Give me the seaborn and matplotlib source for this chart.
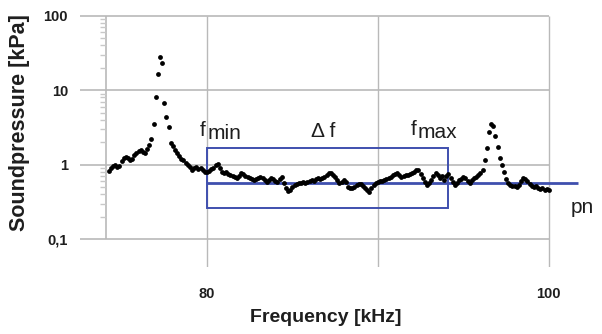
import numpy as np
import matplotlib
matplotlib.use('Agg')
import matplotlib.pyplot as plt
import seaborn as sns
from matplotlib.ticker import NullLocator, NullFormatter

# measured spectrum, 0.125 kHz steps
freq_khz = [
    74.25, 74.375, 74.5, 74.625, 74.75, 74.875,
    75.0, 75.125, 75.25, 75.375, 75.5, 75.625, 75.75, 75.875,
    76.0, 76.125, 76.25, 76.375, 76.5, 76.625, 76.75, 76.875,
    77.0, 77.125, 77.25, 77.375, 77.5, 77.625, 77.75, 77.875,
    78.0, 78.125, 78.25, 78.375, 78.5, 78.625, 78.75, 78.875,
    79.0, 79.125, 79.25, 79.375, 79.5, 79.625, 79.75, 79.875,
    80.0, 80.125, 80.25, 80.375, 80.5, 80.625, 80.75, 80.875,
    81.0, 81.125, 81.25, 81.375, 81.5, 81.625, 81.75, 81.875,
    82.0, 82.125, 82.25, 82.375, 82.5, 82.625, 82.75, 82.875,
    83.0, 83.125, 83.25, 83.375, 83.5, 83.625, 83.75, 83.875,
    84.0, 84.125, 84.25, 84.375, 84.5, 84.625, 84.75, 84.875,
    85.0, 85.125, 85.25, 85.375, 85.5, 85.625, 85.75, 85.875,
    86.0, 86.125, 86.25, 86.375, 86.5, 86.625, 86.75, 86.875,
    87.0, 87.125, 87.25, 87.375, 87.5, 87.625, 87.75, 87.875,
    88.0, 88.125, 88.25, 88.375, 88.5, 88.625, 88.75, 88.875,
    89.0, 89.125, 89.25, 89.375, 89.5, 89.625, 89.75, 89.875,
    90.0, 90.125, 90.25, 90.375, 90.5, 90.625, 90.75, 90.875,
    91.0, 91.125, 91.25, 91.375, 91.5, 91.625, 91.75, 91.875,
    92.0, 92.125, 92.25, 92.375, 92.5, 92.625, 92.75, 92.875,
    93.0, 93.125, 93.25, 93.375, 93.5, 93.625, 93.75, 93.875,
    94.0, 94.125, 94.25, 94.375, 94.5, 94.625, 94.75, 94.875,
    95.0, 95.125, 95.25, 95.375, 95.5, 95.625, 95.75, 95.875,
    96.0, 96.125, 96.25, 96.375, 96.5, 96.625, 96.75, 96.875,
    97.0, 97.125, 97.25, 97.375, 97.5, 97.625, 97.75, 97.875,
    98.0, 98.125, 98.25, 98.375, 98.5, 98.625, 98.75, 98.875,
    99.0, 99.125, 99.25, 99.375, 99.5, 99.625, 99.75, 99.875,
    100.0,
]
pressure_kpa = [
    0.83, 0.91, 0.97, 1.00, 0.94, 0.97,
    1.13, 1.24, 1.28, 1.24, 1.17, 1.20, 1.36, 1.45,
    1.54, 1.59, 1.50, 1.45, 1.64, 1.86, 2.24, 3.55,
    8.2, 16.7, 28.3, 23.5, 6.8, 4.4, 3.24, 1.97,
    1.80, 1.59, 1.45, 1.32, 1.20, 1.17, 1.06, 1.00,
    0.94, 0.86, 0.91, 0.94, 0.88, 0.91, 0.86, 0.81,
    0.81, 0.83, 0.88, 0.91, 1.00, 1.03, 0.91, 0.81,
    0.78, 0.81, 0.76, 0.73, 0.71, 0.69, 0.67, 0.71,
    0.78, 0.76, 0.71, 0.69, 0.67, 0.65, 0.63, 0.65,
    0.67, 0.69, 0.67, 0.63, 0.59, 0.63, 0.67, 0.65,
    0.61, 0.59, 0.65, 0.69, 0.57, 0.49, 0.45, 0.46,
    0.51, 0.54, 0.56, 0.57, 0.57, 0.59, 0.57, 0.59,
    0.61, 0.63, 0.61, 0.65, 0.67, 0.65, 0.67, 0.69,
    0.73, 0.78, 0.78, 0.73, 0.69, 0.63, 0.57, 0.59,
    0.63, 0.59, 0.51, 0.49, 0.49, 0.51, 0.54, 0.56,
    0.56, 0.52, 0.49, 0.46, 0.43, 0.49, 0.54, 0.57,
    0.59, 0.61, 0.61, 0.63, 0.65, 0.67, 0.69, 0.73,
    0.76, 0.78, 0.73, 0.69, 0.71, 0.73, 0.73, 0.76,
    0.78, 0.81, 0.86, 0.86, 0.76, 0.67, 0.59, 0.54,
    0.57, 0.63, 0.71, 0.78, 0.73, 0.67, 0.71, 0.63,
    0.71, 0.76, 0.67, 0.59, 0.54, 0.57, 0.63, 0.65,
    0.69, 0.67, 0.61, 0.57, 0.63, 0.67, 0.69, 0.73,
    0.78, 0.86, 1.17, 1.69, 2.78, 3.55, 3.34, 2.45,
    1.75, 1.24, 1.00, 0.81, 0.65, 0.57, 0.54, 0.52,
    0.52, 0.51, 0.54, 0.61, 0.67, 0.65, 0.61, 0.56,
    0.52, 0.51, 0.52, 0.49, 0.47, 0.49, 0.46, 0.47,
    0.46,
]

ytick_vals = [0.1, 1, 10, 100]
ytick_labels = ['0,1', '1', '10', '100']
xtick_vals = [80, 100]
xtick_labels = ['80', '100']

# blue window: f_min .. f_max, and noise level pn
f_min, f_max = 80.0, 94.1
box_low, box_high = 0.264, 1.69
pn_level = 0.568

sns.set_style('white')
plt.rcParams['font.family'] = ['Liberation Sans', 'DejaVu Sans']

grid_col = '#b9b9b9'
blue = '#3f4fae'
txt = '#1e1e1e'

fig = plt.figure(figsize=(6.02, 3.34), dpi=100)
ax = fig.add_axes([0.1337, 0.2006, 0.8347, 0.7524])
ax.set_yscale('log')
ax.set_xlim(72.6, 102.0)
ax.set_ylim(0.0426, 100)
for s in ax.spines.values():
    s.set_visible(False)

# grid
ax.hlines(ytick_vals, 72.6, 100.0, color=grid_col, lw=1.2, zorder=1, clip_on=False)
ax.vlines(74.09, 0.1, 100, color=grid_col, lw=1.2, zorder=1)
ax.vlines([80, 90, 100], 0.0426, 100, color=grid_col, lw=1.0, zorder=1)
minor = [m * 10.0 ** e for e in (-1, 0, 1) for m in range(2, 10)]
ax.hlines(minor, 73.74, 74.09, color='#c8c8c8', lw=1.0, zorder=1)

# window and pn line
ax.add_patch(plt.Rectangle((f_min, box_low), f_max - f_min, box_high - box_low,
                           fill=False, ec=blue, lw=1.4, zorder=2))
ax.hlines(pn_level, f_min, 101.7, color=blue, lw=2.0, zorder=2)

sns.scatterplot(x=freq_khz, y=pressure_kpa, ax=ax, color='black', s=12,
                linewidth=0, zorder=3)

ax.set_yticks(ytick_vals, ytick_labels)
ax.set_xticks(xtick_vals, xtick_labels)
ax.yaxis.set_minor_locator(NullLocator())
ax.yaxis.set_minor_formatter(NullFormatter())
ax.tick_params(length=0, labelsize=10.5, labelcolor=txt)
ax.tick_params(axis='y', pad=9)
ax.tick_params(axis='x', pad=14.5)
for lab in ax.get_xticklabels() + ax.get_yticklabels():
    lab.set_fontweight('bold')

fig.text(20 / 602, 1 - 123 / 334, 'Soundpressure [kPa]', rotation=90, ha='center',
         va='center', fontsize=15.5, fontweight='bold', color=txt)
fig.text(326 / 602, 1 - 318 / 334, 'Frequency [kHz]', ha='center', va='center',
         fontsize=14, fontweight='bold', color=txt)

# labels on the window
def label(f, v, main, sub):
    t = ax.text(f, v, main, fontsize=15, color=txt, ha='left', va='baseline')
    if sub:
        ax.annotate(sub, xy=(f, v), xytext=(5, -2.5), textcoords='offset points',
                    fontsize=15, color=txt, ha='left', va='baseline')
    return t

label(79.6, 2.45, 'f', 'min')
label(86.1, 2.37, '\u0394 f', None)
label(91.9, 2.53, 'f', 'max')
ax.text(101.3, 0.227, 'pn', fontsize=15, color=txt, ha='left', va='baseline')

fig.savefig('out.png', dpi=100)
